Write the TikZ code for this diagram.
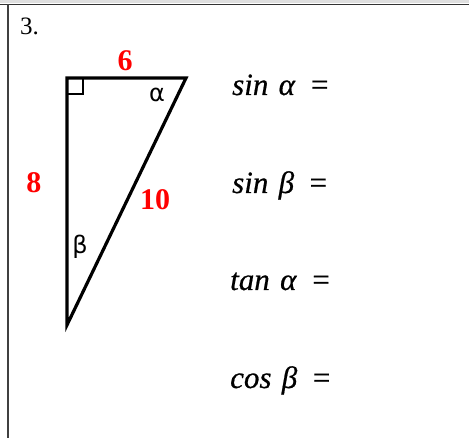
\documentclass[tikz,border=0pt]{standalone}
\usepackage{fontspec}
\setmainfont{Liberation Serif}
\newfontfamily\symfont{DejaVu Sans}
\begin{document}
\begin{tikzpicture}[x=1pt,y=-1pt,
  redlbl/.style={text=red,font=\fontsize{30}{32}\selectfont\bfseries,inner sep=0},
  anglbl/.style={font=\symfont\fontsize{24}{26}\selectfont,inner sep=0},
  eqn/.style={font=\fontsize{31}{33}\selectfont\addfontfeature{FakeBold=0.6},anchor=base west,inner sep=0},
  tri/.style={line width=3.2pt,line join=miter}]
\useasboundingbox (0,0) rectangle (469,438);
\fill[gray!25] (0,0) rectangle (469,3);
\draw[line width=1.6pt,black!80] (0,4.5) -- (469,4.5);
\draw[line width=1.6pt,black!75] (8,4.5) -- (8,438);
\node[font=\fontsize{25}{27}\selectfont,inner sep=0,anchor=base west] (num) at (20,34.5) {3.};
\coordinate (A) at (67,78);
\coordinate (B) at (186,78);
\coordinate (C) at (67,325);
\draw[tri] (A) -- (B) -- (C) -- cycle;
\draw[line width=2pt] (67,94.5) -- (83,94.5) -- (83,78);
\node[redlbl] (six) at (125,61) {6};
\node[redlbl] (eight) at (34,183) {8};
\node[redlbl] (ten) at (155,200) {10};
\node[anglbl] (al) at (157,95) {α};
\node[anglbl] (be) at (80,247) {β};
\node[eqn] (e1) at (232,95) {\textit{sin\,\,α}\ \ =};
\node[eqn] (e2) at (232,193) {\textit{sin\,\,β}\ \ =};
\node[eqn] (e3) at (230,290) {\textit{tan\,\,α}\ \ =};
\node[eqn] (e4) at (230,388) {\textit{cos\,\,β}\ \ =};
\end{tikzpicture}
\end{document}
